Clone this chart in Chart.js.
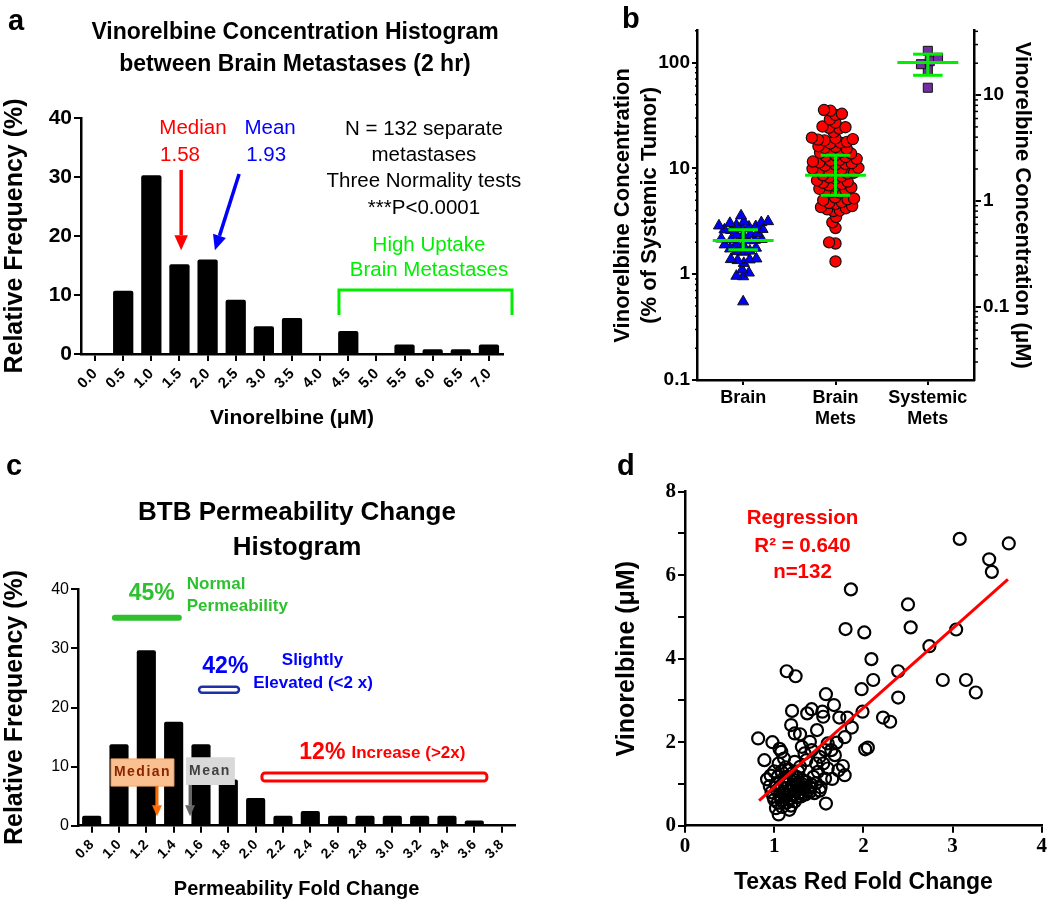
<!DOCTYPE html>
<html>
<head>
<meta charset="utf-8">
<script src="https://cdn.jsdelivr.net/npm/chart.js@4.4.1/dist/chart.umd.min.js"></script>
<style>
  body { margin: 0; background: #fff; }
  #wrap { position: relative; width: 1050px; height: 906px; }
  canvas { position: absolute; }
</style>
</head>
<body>
<div id="wrap">
  <canvas id="panelA" width="590" height="450" style="left:0;top:0"></canvas>
  <canvas id="panelB" width="490" height="450" style="left:560px;top:0"></canvas>
  <canvas id="panelC" width="590" height="456" style="left:0;top:450px"></canvas>
  <canvas id="panelD" width="470" height="456" style="left:580px;top:450px"></canvas>
</div>
<script>
// ---- data ----
// a: vinorelbine histogram (% of 132 mets)
var vinoBins = ['0.0','0.5','1.0','1.5','2.0','2.5','3.0','3.5','4.0','4.5','5.0','5.5','6.0','6.5','7.0'];
var vinoFreq = [0, 10.7, 30.3, 15.2, 16.0, 9.2, 4.7, 6.1, 0, 3.9, 0, 1.6, 0.8, 0.8, 1.6];

// b: concentration as % of systemic tumor
var groupLabels = ['Brain', ['Brain', 'Mets'], ['Systemic', 'Mets']];
var brainPct = [0.55, 0.95, 0.96, 1.03, 1.10, 1.27, 1.35, 1.37, 1.38, 1.40,
  1.62, 1.64, 1.66, 1.74, 1.77, 1.88, 1.90, 1.93, 2.08, 2.10,
  2.12, 2.14, 2.16, 2.33, 2.36, 2.39, 2.42, 2.60, 2.63, 2.66,
  2.70, 2.80, 2.83, 2.87, 2.90, 3.03, 3.08, 3.12, 3.15, 3.57];
var brainMetsPct = [35.0, 35.6, 32.0, 32.8, 29.0, 27.0, 23.8, 24.2, 24.5, 24.9,
  22.0, 18.4, 18.7, 18.9, 19.2, 19.5, 17.2, 17.5, 17.8, 15.3,
  15.6, 15.9, 16.2, 13.8, 14.0, 14.3, 14.6, 12.8, 13.0, 13.3,
  11.4, 11.6, 11.8, 12.0, 12.3, 10.6, 10.8, 11.0, 11.2, 9.5,
  9.6, 9.8, 9.9, 10.1, 8.9, 9.1, 9.3, 8.0, 8.2, 8.4,
  8.6, 7.1, 7.3, 7.5, 7.7, 6.6, 6.8, 6.9, 5.9, 6.0,
  6.1, 6.2, 6.4, 5.0, 5.1, 5.2, 5.3, 4.6, 4.7, 4.8,
  4.1, 4.2, 4.3, 4.4, 3.95, 4.0, 3.47, 3.09, 2.73, 1.95,
  2.0, 1.32];
var systemicPct = [129, 111, 103, 96.5, 85, 57.8];
var groupMean = [2.08, 8.6, 100];
var groupSdLow = [1.70, 5.56, 75.8];
var groupSdHigh = [2.63, 13.3, 120];
var uMPerPercent = 0.2028;   // right axis (uM) vs left axis (%)

// c: permeability fold change histogram
var permBins = ['0.8','1.0','1.2','1.4','1.6','1.8','2.0','2.2','2.4','2.6','2.8','3.0','3.2','3.4','3.6','3.8'];
var permFreq = [1.7, 13.8, 29.7, 17.6, 13.8, 7.8, 4.7, 1.7, 2.5, 1.7, 1.7, 1.7, 1.7, 1.7, 0.9, 0];

// d: texas red fold change vs vinorelbine
var texasRed = [3.08,3.63,3.41,3.44,1.86,2.50,2.53,1.80,2.01,3.04,
  2.74,2.09,2.39,1.14,1.24,2.11,2.89,3.15,3.26,1.98,
  2.39,1.58,1.67,1.99,2.22,2.30,1.73,1.82,1.87,1.79,
  2.02,2.05,1.20,1.37,1.42,1.54,1.55,1.19,1.48,1.23,
  1.29,0.82,0.98,1.06,1.08,0.89,1.05,1.11,0.92,1.58,
  1.05,1.17,1.79,1.77,1.72,1.68,1.65,1.57,1.51,1.60,
  1.70,1.57,1.55,1.49,1.40,1.40,1.31,1.42,1.34,1.51,
  1.47,1.36,1.23,1.29,1.17,1.60,1.44,1.40,1.32,1.25,
  1.14,1.04,1.64,
  0.95,0.97,0.99,1.00,1.02,1.03,1.04,1.06,1.07,1.08,
  1.09,1.10,1.11,1.12,1.13,1.14,1.15,1.16,1.17,1.18,
  1.19,1.20,1.21,1.22,1.23,1.24,1.25,1.26,1.27,1.28,
  1.29,1.30,1.31,1.32,1.33,1.35,1.36,1.38,1.42,1.45,
  1.47,1.00,0.96,1.08,1.13,1.20,1.27,1.52,1.02];
var vinoUM = [6.87,6.76,6.38,6.08,5.66,5.30,4.75,4.71,4.63,4.70,
  4.30,3.99,3.70,3.70,3.58,3.49,3.49,3.49,3.19,3.27,
  3.07,3.15,2.89,2.73,2.59,2.49,2.59,2.59,2.35,2.12,
  1.83,1.87,2.75,2.69,2.79,2.73,2.61,2.41,2.29,2.21,
  2.19,2.09,2.00,1.84,1.77,1.57,1.49,1.61,1.11,0.53,
  0.27,0.38,1.21,1.43,1.33,1.69,1.12,1.13,0.84,1.97,
  1.99,1.81,1.49,1.29,0.81,2.01,1.89,1.81,1.73,1.65,
  1.49,1.57,1.53,1.41,1.33,1.37,1.17,0.93,1.09,1.17,
  1.17,1.17,1.81,
  0.95,0.80,0.70,0.62,1.00,0.85,0.55,0.72,0.95,0.60,
  0.45,0.82,1.05,0.68,0.90,0.55,0.75,1.00,0.62,0.85,
  0.48,0.95,0.72,1.10,0.58,0.82,0.95,0.68,1.02,0.78,
  0.88,0.70,1.00,0.80,0.92,0.75,1.05,0.85,0.98,0.78,
  1.02,1.30,1.20,1.30,1.40,1.25,1.30,0.92,0.42];
var regX = [0.83, 3.62];
var regY = [0.60, 5.90];

// ---- styling ----
var SANS = "'Liberation Sans', Arial, sans-serif";
var SERIF = "'Liberation Serif', 'Times New Roman', serif";
var RED = '#ff0000', BLUE = '#0000ff', GREEN = '#00ee00';
Chart.defaults.font.family = SANS;
Chart.defaults.color = '#000';

function grid(len) {
  return { drawOnChartArea: false, tickLength: len, color: '#000', lineWidth: 2 };
}
var border = { color: '#000', width: 2.5 };

function drawArrow(ctx, x1, y1, x2, y2, color, w, head) {
  var a = Math.atan2(y2 - y1, x2 - x1);
  var bx = x2 - Math.cos(a) * head, by = y2 - Math.sin(a) * head;
  ctx.strokeStyle = color; ctx.lineWidth = w;
  ctx.beginPath(); ctx.moveTo(x1, y1); ctx.lineTo(bx, by); ctx.stroke();
  ctx.fillStyle = color; ctx.beginPath();
  ctx.moveTo(x2, y2);
  ctx.lineTo(bx + Math.sin(a) * head * 0.45, by - Math.cos(a) * head * 0.45);
  ctx.lineTo(bx - Math.sin(a) * head * 0.45, by + Math.cos(a) * head * 0.45);
  ctx.closePath(); ctx.fill();
}

// annotations in data units of x / y scales (px:true -> canvas pixels)
function makeNotes(items) {
  return {
    id: 'notes',
    afterDatasetsDraw: function(chart) {
      var ctx = chart.ctx, sx = chart.scales.x, sy = chart.scales.y;
      function X(it, v) { return it.px ? v : sx.getPixelForValue(v); }
      function Y(it, v) { return it.px ? v : sy.getPixelForValue(v); }
      items.forEach(function(it) {
        ctx.save();
        if (it.type === 'text') {
          ctx.font = it.font;
          ctx.fillStyle = it.color || '#000';
          ctx.textAlign = it.align || 'center';
          ctx.textBaseline = it.baseline || 'middle';
          if (it.spacing) ctx.letterSpacing = it.spacing;
          ctx.fillText(it.text, X(it, it.x), Y(it, it.y));
        } else if (it.type === 'path') {
          ctx.strokeStyle = it.color; ctx.lineWidth = it.width;
          ctx.lineCap = it.cap || 'butt';
          ctx.beginPath();
          it.pts.forEach(function(p, i) {
            if (i === 0) ctx.moveTo(X(it, p[0]), Y(it, p[1]));
            else ctx.lineTo(X(it, p[0]), Y(it, p[1]));
          });
          ctx.stroke();
        } else if (it.type === 'arrow') {
          drawArrow(ctx, X(it, it.x1), Y(it, it.y1), X(it, it.x2), Y(it, it.y2), it.color, it.width, it.head);
        } else if (it.type === 'box') {
          var x1 = X(it, it.x1), x2 = X(it, it.x2), y1 = Y(it, it.y1), y2 = Y(it, it.y2);
          ctx.beginPath();
          ctx.roundRect(Math.min(x1, x2), Math.min(y1, y2), Math.abs(x2 - x1), Math.abs(y2 - y1), it.radius || 0);
          if (it.fill) { ctx.fillStyle = it.fill; ctx.fill(); }
          if (it.stroke) { ctx.strokeStyle = it.stroke; ctx.lineWidth = it.width || 1; ctx.stroke(); }
        }
        ctx.restore();
      });
    }
  };
}

// small log ticks between decades
var minorTicks = {
  id: 'minorTicks',
  afterDraw: function(chart) {
    var ctx = chart.ctx;
    Object.keys(chart.scales).forEach(function(k) {
      var s = chart.scales[k];
      var len = s.options.minor;
      if (!len) return;
      var x0 = s.position === 'left' ? s.right : s.left;
      var dir = s.position === 'left' ? -1 : 1;
      ctx.save();
      ctx.strokeStyle = '#000'; ctx.lineWidth = 1.5;
      for (var d = Math.floor(Math.log10(s.min)); d <= Math.ceil(Math.log10(s.max)); d++) {
        for (var m = 2; m <= 9; m++) {
          var v = m * Math.pow(10, d);
          if (v < s.min || v > s.max) continue;
          var y = s.getPixelForValue(v);
          ctx.beginPath(); ctx.moveTo(x0, y); ctx.lineTo(x0 + dir * len, y); ctx.stroke();
        }
      }
      ctx.restore();
    });
  }
};

function decadeTicks(s) {
  var t = [];
  for (var d = Math.ceil(Math.log10(s.min) - 1e-9); Math.pow(10, d) <= s.max * (1 + 1e-9); d++) {
    t.push({ value: Math.pow(10, d) });
  }
  s.ticks = t;
}
function fmtLog(v) { return String(+v.toPrecision(6)); }

// column scatter layout (like a beeswarm)
var PX_PER_DECADE = 105.5, PX_PER_GROUP = 92.3;
function swarm(values, group, diam) {
  var placed = [], out = [];
  var order = values.map(function(v, i) { return i; }).sort(function(a, b) { return values[a] - values[b]; });
  order.forEach(function(i) {
    var py = Math.log10(values[i]) * PX_PER_DECADE;
    var near = placed.filter(function(p) { return Math.abs(p.py - py) < diam; });
    var cands = [0];
    near.forEach(function(p) {
      var dx = Math.sqrt(diam * diam - (p.py - py) * (p.py - py));
      cands.push(p.px - dx, p.px + dx);
    });
    cands.sort(function(a, b) { return Math.abs(a) - Math.abs(b) || a - b; });
    var px = cands.find(function(c) {
      return near.every(function(p) { return (p.px - c) * (p.px - c) + (p.py - py) * (p.py - py) >= diam * diam - 0.01; });
    });
    if (px === undefined) px = 0;
    placed.push({ px: px, py: py });
    out.push({ x: group + px / PX_PER_GROUP, y: values[i] });
  });
  return out;
}

var base = { responsive: false, animation: false, devicePixelRatio: 1 };
var noLegend = { legend: { display: false }, tooltip: { enabled: false } };

// ---- panel a ----
var notesA = [
  { type: 'text', px: true, x: 8, y: 30, text: 'a', font: 'bold 29px ' + SANS, align: 'left', baseline: 'alphabetic' },
  { type: 'text', px: true, x: 295, y: 33, text: 'Vinorelbine Concentration Histogram', font: 'bold 23px ' + SANS },
  { type: 'text', px: true, x: 295, y: 65, text: 'between Brain Metastases (2 hr)', font: 'bold 23px ' + SANS },
  { type: 'text', x: 3.48, y: 38.3, text: 'Median', font: '20.5px ' + SANS, color: RED },
  { type: 'text', x: 3.02, y: 33.7, text: '1.58', font: '20.5px ' + SANS, color: RED },
  { type: 'text', x: 6.22, y: 38.3, text: 'Mean', font: '20.5px ' + SANS, color: BLUE },
  { type: 'text', x: 6.08, y: 33.7, text: '1.93', font: '20.5px ' + SANS, color: BLUE },
  { type: 'arrow', x1: 3.06, y1: 31.2, x2: 3.06, y2: 17.6, color: RED, width: 3.5, head: 15 },
  { type: 'arrow', x1: 5.12, y1: 30.5, x2: 4.26, y2: 17.6, color: BLUE, width: 3.5, head: 15 },
  { type: 'text', x: 11.69, y: 38.0, text: 'N = 132 separate', font: '20.5px ' + SANS },
  { type: 'text', x: 11.69, y: 33.6, text: 'metastases', font: '20.5px ' + SANS },
  { type: 'text', x: 11.69, y: 29.2, text: 'Three Normality tests', font: '20.5px ' + SANS },
  { type: 'text', x: 11.69, y: 24.7, text: '***P<0.0001', font: '20.5px ' + SANS },
  { type: 'text', x: 11.87, y: 18.5, text: 'High Uptake', font: '20.5px ' + SANS, color: GREEN },
  { type: 'text', x: 11.87, y: 14.1, text: 'Brain Metastases', font: '20.5px ' + SANS, color: GREEN },
  { type: 'path', pts: [[8.67, 6.6], [8.67, 10.85], [14.82, 10.85], [14.82, 6.6]], color: GREEN, width: 3 }
];

new Chart(document.getElementById('panelA'), {
  type: 'bar',
  data: {
    labels: vinoBins,
    datasets: [{ data: vinoFreq, backgroundColor: '#000', barPercentage: 0.72, categoryPercentage: 1, borderRadius: 2 }]
  },
  options: Object.assign({}, base, {
    layout: { padding: { left: 0, right: 87, top: 118, bottom: 0 } },
    plugins: noLegend,
    scales: {
      x: {
        grid: Object.assign(grid(7), { offset: false }), border: border,
        ticks: { autoSkip: false, minRotation: 45, maxRotation: 45, font: { size: 15, weight: 'bold' }, padding: 4 },
        title: { display: true, text: 'Vinorelbine (\u03bcM)', font: { size: 21, weight: 'bold' }, padding: { top: 0, bottom: 19 } },
        afterFit: function(s) { s.height = 96; }
      },
      y: {
        min: 0, max: 40,
        grid: grid(7), border: border,
        ticks: { stepSize: 10, font: { size: 21, weight: 'bold' }, padding: 2 },
        title: { display: true, text: 'Relative Frequency (%)', font: { size: 25, weight: 'bold' }, padding: { top: 0, bottom: 0 } },
        afterFit: function(s) { s.width = 81; }
      }
    }
  }),
  plugins: [makeNotes(notesA)]
});

// ---- panel b ----
var notesB = [
  { type: 'text', px: true, x: 62, y: 28, text: 'b', font: 'bold 29px ' + SANS, align: 'left', baseline: 'alphabetic' }
];
groupMean.forEach(function(m, i) {
  var g = i + 1;
  notesB.push({ type: 'path', pts: [[g - 0.33, m], [g + 0.33, m]], color: GREEN, width: 3 });
  notesB.push({ type: 'path', pts: [[g, groupSdLow[i]], [g, groupSdHigh[i]]], color: GREEN, width: 3 });
  notesB.push({ type: 'path', pts: [[g - 0.16, groupSdHigh[i]], [g + 0.16, groupSdHigh[i]]], color: GREEN, width: 3 });
  notesB.push({ type: 'path', pts: [[g - 0.16, groupSdLow[i]], [g + 0.16, groupSdLow[i]]], color: GREEN, width: 3 });
});

new Chart(document.getElementById('panelB'), {
  type: 'scatter',
  data: {
    datasets: [
      { data: swarm(brainPct, 1, 6.8), pointStyle: 'triangle', pointRadius: 6.4, backgroundColor: '#0000ff', borderColor: '#111', borderWidth: 1 },
      { data: swarm(brainMetsPct, 2, 6.5), pointStyle: 'circle', pointRadius: 5.6, backgroundColor: '#ff0000', borderColor: '#111', borderWidth: 1.2 },
      { data: swarm(systemicPct, 3, 9), pointStyle: 'rect', pointRadius: 6.4, backgroundColor: '#7030a0', borderColor: '#111', borderWidth: 1 }
    ]
  },
  options: Object.assign({}, base, {
    layout: { padding: { left: 0, right: 0, top: 30.7, bottom: 0 } },
    plugins: noLegend,
    scales: {
      x: {
        type: 'linear', min: 0.5, max: 3.5,
        afterBuildTicks: function(s) { s.ticks = [1, 2, 3].map(function(v) { return { value: v }; }); },
        ticks: { callback: function(v) { return groupLabels[v - 1]; }, font: { size: 18, weight: 'bold', lineHeight: 1.2 }, padding: 2 },
        grid: grid(5), border: border,
        afterFit: function(s) { s.height = 70; }
      },
      y: {
        type: 'logarithmic', position: 'left', min: 0.1, max: 200, minor: 2,
        afterBuildTicks: decadeTicks,
        ticks: { callback: fmtLog, font: { size: 19, weight: 'bold' }, padding: 2 },
        grid: grid(5), border: border,
        title: { display: true, text: ['Vinorelbine Concentration', '(% of Systemic Tumor)'], font: { size: 22, weight: 'bold', lineHeight: 1.23 }, padding: { top: 49.5, bottom: 0 } },
        afterFit: function(s) { s.width = 137; }
      },
      y2: {
        type: 'logarithmic', position: 'right', min: 0.1 * uMPerPercent, max: 200 * uMPerPercent, minor: 4,
        afterBuildTicks: decadeTicks,
        ticks: { callback: fmtLog, font: { size: 19, weight: 'bold' }, padding: 2 },
        grid: grid(7), border: border,
        title: { display: true, text: 'Vinorelbine Concentration (\u03bcM)', font: { size: 22, weight: 'bold' }, padding: { top: 14.5, bottom: 0 } },
        afterFit: function(s) { s.width = 76; }
      }
    }
  }),
  plugins: [minorTicks, makeNotes(notesB)]
});

// ---- panel c ----
var CGREEN = '#2ec02e';
var notesC = [
  { type: 'text', px: true, x: 6, y: 25, text: 'c', font: 'bold 29px ' + SANS, align: 'left', baseline: 'alphabetic' },
  { type: 'text', px: true, x: 297, y: 63, text: 'BTB Permeability Change', font: 'bold 26px ' + SANS },
  { type: 'text', px: true, x: 297, y: 98, text: 'Histogram', font: 'bold 26px ' + SANS },
  { type: 'path', pts: [[0.85, 35.2], [3.19, 35.2]], color: CGREEN, width: 6, cap: 'round' },
  { type: 'text', x: 2.2, y: 39.2, text: '45%', font: 'bold 23px ' + SANS, color: CGREEN },
  { type: 'text', x: 3.48, y: 40.9, text: 'Normal', font: 'bold 17px ' + SANS, color: CGREEN, align: 'left' },
  { type: 'text', x: 3.48, y: 37.2, text: 'Permeability', font: 'bold 17px ' + SANS, color: CGREEN, align: 'left' },
  { type: 'box', x1: 3.93, y1: 23.5, x2: 5.39, y2: 22.5, stroke: '#1f2fa8', width: 2.5, radius: 3 },
  { type: 'text', x: 4.89, y: 26.9, text: '42%', font: 'bold 23px ' + SANS, color: BLUE },
  { type: 'text', x: 8.08, y: 27.9, text: 'Slightly', font: 'bold 17px ' + SANS, color: BLUE },
  { type: 'text', x: 8.1, y: 24.1, text: 'Elevated (<2 x)', font: 'bold 17px ' + SANS, color: BLUE },
  { type: 'box', x1: 6.23, y1: 8.9, x2: 14.46, y2: 7.55, stroke: RED, width: 3, radius: 3 },
  { type: 'text', x: 8.44, y: 12.3, text: '12%', font: 'bold 23px ' + SANS, color: RED },
  { type: 'text', x: 11.59, y: 12.3, text: 'Increase (>2x)', font: 'bold 17px ' + SANS, color: RED },
  { type: 'box', x1: 0.71, y1: 11.3, x2: 3.01, y2: 6.7, fill: '#fac08f', stroke: '#f0a868', width: 1 },
  { type: 'text', x: 1.86, y: 9.0, text: 'Median', font: 'bold 14px ' + SANS, color: '#8b2500', spacing: '1.5px' },
  { type: 'arrow', x1: 2.39, y1: 6.7, x2: 2.39, y2: 1.6, color: '#ff6a00', width: 3, head: 11 },
  { type: 'box', x1: 3.45, y1: 11.6, x2: 5.24, y2: 6.9, fill: '#d9d9d9' },
  { type: 'text', x: 4.33, y: 9.3, text: 'Mean', font: 'bold 14px ' + SANS, color: '#404040', spacing: '1.5px' },
  { type: 'arrow', x1: 3.6, y1: 6.9, x2: 3.6, y2: 1.6, color: '#666666', width: 3, head: 11 }
];

new Chart(document.getElementById('panelC'), {
  type: 'bar',
  data: {
    labels: permBins,
    datasets: [{ data: permFreq, backgroundColor: '#000', barPercentage: 0.7, categoryPercentage: 1, borderRadius: 2 }]
  },
  options: Object.assign({}, base, {
    layout: { padding: { left: 0, right: 74.7, top: 139.3, bottom: 0 } },
    plugins: noLegend,
    scales: {
      x: {
        grid: Object.assign(grid(7), { offset: false }), border: border,
        ticks: { autoSkip: false, minRotation: 45, maxRotation: 45, font: { size: 14, weight: 'bold' }, padding: 4 },
        title: { display: true, text: 'Permeability Fold Change', font: { size: 20, weight: 'bold' }, padding: { top: 0, bottom: 5 } },
        afterFit: function(s) { s.height = 80.3; }
      },
      y: {
        min: 0, max: 40,
        grid: grid(7), border: border,
        ticks: { stepSize: 10, font: { size: 16 }, padding: 2 },
        title: { display: true, text: 'Relative Frequency (%)', font: { size: 25, weight: 'bold' }, padding: { top: 0, bottom: 0 } },
        afterFit: function(s) { s.width = 78; }
      }
    }
  }),
  plugins: [makeNotes(notesC)]
});

// ---- panel d ----
var notesD = [
  { type: 'text', px: true, x: 37, y: 25, text: 'd', font: 'bold 29px ' + SANS, align: 'left', baseline: 'alphabetic' },
  { type: 'text', x: 1.317, y: 7.37, text: 'Regression', font: 'bold 20.5px ' + SANS, color: RED },
  { type: 'text', x: 1.317, y: 6.68, text: 'R\u00b2 = 0.640', font: 'bold 20.5px ' + SANS, color: RED },
  { type: 'text', x: 1.317, y: 6.08, text: 'n=132', font: 'bold 20.5px ' + SANS, color: RED }
];

new Chart(document.getElementById('panelD'), {
  type: 'scatter',
  data: {
    datasets: [
      { data: regX.map(function(x, i) { return { x: x, y: regY[i] }; }), showLine: true, borderColor: RED, borderWidth: 3, pointRadius: 0 },
      { data: texasRed.map(function(x, i) { return { x: x, y: vinoUM[i] }; }), pointStyle: 'circle', pointRadius: 6, borderWidth: 2.2, borderColor: '#000', backgroundColor: 'rgba(0,0,0,0)' }
    ]
  },
  options: Object.assign({}, base, {
    layout: { padding: { left: 0, right: 7.3, top: 41.7, bottom: 0 } },
    plugins: noLegend,
    scales: {
      x: {
        type: 'linear', min: 0, max: 4,
        grid: grid(7), border: border,
        ticks: { stepSize: 1, font: { family: SERIF, size: 21, weight: 'bold' }, padding: 1 },
        title: { display: true, text: 'Texas Red Fold Change', font: { size: 23, weight: 'bold' }, padding: { top: 0, bottom: 9.5 } },
        afterFit: function(s) { s.height = 80.3; }
      },
      y: {
        min: 0, max: 8,
        grid: grid(7), border: border,
        ticks: { stepSize: 1, callback: function(v) { return v % 2 === 0 ? v : ''; }, font: { family: SERIF, size: 21, weight: 'bold' }, padding: 2 },
        title: { display: true, text: 'Vinorelbine (\u03bcM)', font: { size: 25, weight: 'bold' }, padding: { top: 31.7, bottom: 0 } },
        afterFit: function(s) { s.width = 105; }
      }
    }
  }),
  plugins: [makeNotes(notesD)]
});
</script>
</body>
</html>
